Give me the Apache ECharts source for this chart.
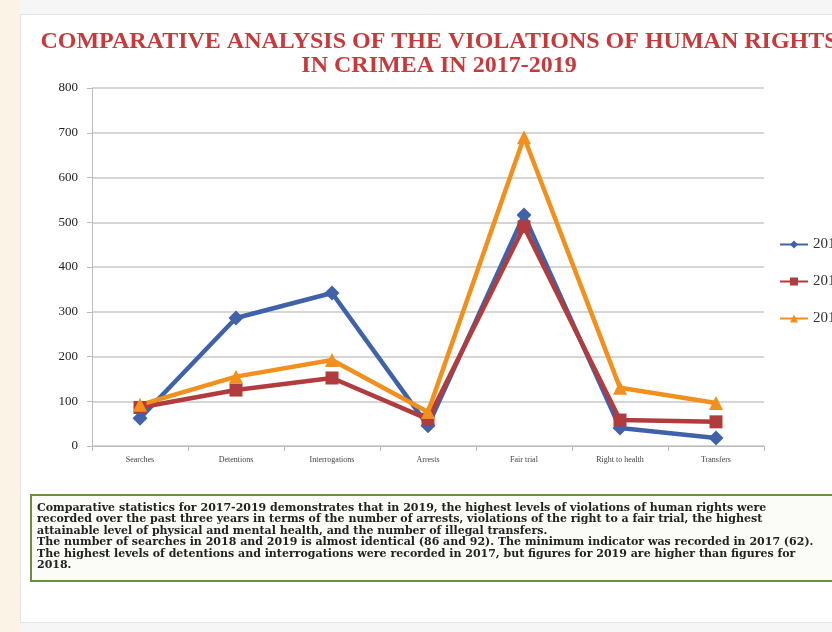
<!DOCTYPE html>
<html>
<head>
<meta charset="utf-8">
<script src="https://cdn.jsdelivr.net/npm/echarts@6/dist/echarts.min.js"></script>
<style>
  html, body { margin: 0; padding: 0; background: #f6f6f6; }
  #chart { width: 832px; height: 632px; }
</style>
</head>
<body>
<div id="chart"></div>
<script>
// categories and values
var categories = ['Searches', 'Detentions', 'Interrogations', 'Arrests', 'Fair trial', 'Right to health', 'Transfers']
var data2017 = [62, 286, 342, 45, 516, 40, 18]
var data2018 = [86, 125, 152, 60, 490, 58, 54]
var data2019 = [92, 155, 192, 76, 690, 130, 96]
var yTicks = [0, 100, 200, 300, 400, 500, 600, 700, 800]

var noteLines = [
  'Comparative statistics for 2017-2019 demonstrates that in 2019, the highest levels of violations of human rights were',
  'recorded over the past three years in terms of the number of arrests, violations of the right to a fair trial, the highest',
  'attainable level of physical and mental health, and the number of illegal transfers.',
  'The number of searches in 2018 and 2019 is almost identical (86 and 92). The minimum indicator was recorded in 2017 (62).',
  'The highest levels of detentions and interrogations were recorded in 2017, but figures for 2019 are higher than figures for',
  '2018.'
]

var serif = '"Liberation Serif", "DejaVu Serif", serif'

function lineSeries (name, data, color, symbol, size) {
  return {
    name: name,
    type: 'line',
    data: data,
    symbol: symbol,
    symbolSize: size,
    lineStyle: { color: color, width: 4.5 },
    itemStyle: { color: color },
    z: 3
  }
}

var chart = echarts.init(document.getElementById('chart'))

chart.setOption({
  backgroundColor: '#f6f6f6',
  animation: false,
  title: {
    text: 'COMPARATIVE ANALYSIS OF THE VIOLATIONS OF HUMAN RIGHTS\nIN CRIMEA IN 2017-2019',
    left: 434,
    top: 25,
    textAlign: 'center',
    textStyle: {
      fontFamily: serif,
      fontSize: 24,
      fontWeight: 'bold',
      color: '#c63a3c',
      lineHeight: 24
    }
  },
  legend: {
    orient: 'vertical',
    left: 774,
    top: 232,
    itemGap: 22,
    itemWidth: 28,
    itemHeight: 10,
    textStyle: { fontFamily: serif, fontSize: 15, color: '#333' },
    data: ['2017', '2018', '2019']
  },
  grid: { left: 92, right: 68, top: 88, bottom: 186 },
  xAxis: {
    type: 'category',
    data: categories,
    axisLine: { lineStyle: { color: '#bbbbbb', width: 1 } },
    axisTick: { show: true, lineStyle: { color: '#bbbbbb' } },
    axisLabel: { fontFamily: serif, fontSize: 8, color: '#444', margin: 10 }
  },
  yAxis: {
    type: 'value',
    min: 0,
    max: 800,
    interval: 100,
    axisLine: { show: true, lineStyle: { color: '#bbbbbb' } },
    axisTick: { show: true, lineStyle: { color: '#bbbbbb' } },
    splitLine: { lineStyle: { color: '#d6d6d6', width: 2 } },
    axisLabel: {
      fontFamily: serif,
      fontSize: 13,
      color: '#222',
      margin: 14,
      formatter: function (v) { return yTicks.indexOf(v) >= 0 ? String(v) : '' }
    }
  },
  series: [
    lineSeries('2017', data2017, '#3f62a8', 'diamond', 15),
    lineSeries('2018', data2018, '#b03c3e', 'rect', 13),
    lineSeries('2019', data2019, '#f2901e', 'triangle', 14)
  ],
  graphic: [
    {
      type: 'rect',
      left: 0,
      top: 0,
      z: -10,
      shape: { width: 20, height: 632 },
      style: { fill: '#fbf3e6' }
    },
    {
      type: 'rect',
      left: 20,
      top: 14,
      z: -9,
      shape: { width: 812, height: 608 },
      style: { fill: '#ffffff', stroke: '#e4e4e4', lineWidth: 1 }
    },
    {
      type: 'rect',
      left: 30,
      top: 494,
      z: 5,
      shape: { width: 806, height: 86 },
      style: { fill: '#fbfcf8', stroke: '#6e8c46', lineWidth: 2 }
    },
    {
      type: 'text',
      left: 37,
      top: 502,
      z: 6,
      style: {
        text: noteLines.join('\n'),
        fontFamily: '"DejaVu Serif", serif',
        fontSize: 11,
        fontWeight: 'bold',
        lineHeight: 11.5,
        fill: '#222'
      }
    }
  ]
})
</script>
</body>
</html>
